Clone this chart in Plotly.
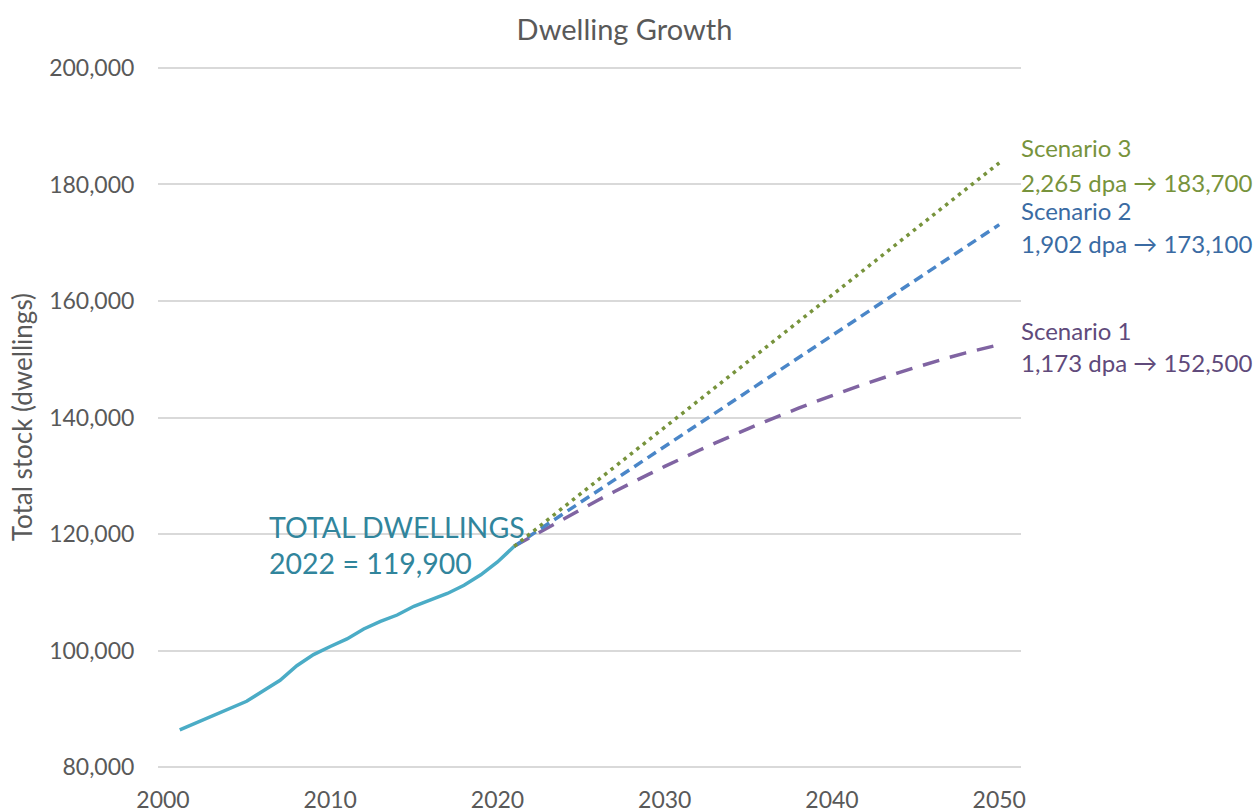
import plotly.graph_objects as go

# ---- data ----
hist_years = list(range(2001, 2022))
hist_values = [86400, 87600, 88800, 90000, 91300, 93100, 94900, 97400, 99300, 100700,
               102000, 103700, 105000, 106100, 107600, 108700, 109800, 111200, 113000,
               115200, 117900]

s1_years = list(range(2021, 2051))
s1_values = [117900, 119500, 121100, 122700, 124300, 125800, 127300, 128800, 130200, 131600,
             133000, 134300, 135600, 136900, 138100, 139300, 140500, 141600, 142700, 143800,
             144800, 145800, 146800, 147700, 148600, 149500, 150300, 151100, 151800, 152500]

s2_years = [2021, 2050]
s2_values = [117900, 173100]

s3_years = [2021, 2050]
s3_values = [117900, 183700]

x_ticks = [2000, 2010, 2020, 2030, 2040, 2050]
y_ticks = [80000, 100000, 120000, 140000, 160000, 180000, 200000]

FONT = "Lato, 'Open Sans', sans-serif"
TICK_COLOR = "#595959"

fig = go.Figure()

fig.add_trace(go.Scatter(x=hist_years, y=hist_values, mode="lines",
                         line=dict(color="#4BACC6", width=3.5), name="Total dwellings"))
fig.add_trace(go.Scatter(x=s1_years, y=s1_values, mode="lines",
                         line=dict(color="#8064A2", width=3.5, dash="17px,11px"), name="Scenario 1"))
fig.add_trace(go.Scatter(x=s2_years, y=s2_values, mode="lines",
                         line=dict(color="#4A86C8", width=3.5, dash="10px,6px"), name="Scenario 2"))
fig.add_trace(go.Scatter(x=s3_years, y=s3_values, mode="lines",
                         line=dict(color="#77933C", width=3.5, dash="3.5px,4.7px"), name="Scenario 3"))

annotations = [
    dict(text="TOTAL DWELLINGS", x=0.1263, y=0.3447, color="#31859C", size=28.5),
    dict(text="2022 = 119,900", x=0.1263, y=0.2936, color="#31859C", size=28.5),
    dict(text="Scenario 3", x=0.9977, y=0.8823, color="#77933C", size=24),
    dict(text="2,265 dpa \u2192 183,700", x=0.9977, y=0.8340, color="#77933C", size=24),
    dict(text="Scenario 2", x=0.9977, y=0.7943, color="#3A6BA3", size=24),
    dict(text="1,902 dpa \u2192 173,100", x=0.9977, y=0.7461, color="#3A6BA3", size=24),
    dict(text="Scenario 1", x=0.9977, y=0.6241, color="#604A7B", size=24),
    dict(text="1,173 dpa \u2192 152,500", x=0.9977, y=0.5787, color="#604A7B", size=24),
]
ann_objs = []
for a in annotations:
    ann_objs.append(dict(text=a["text"], x=a["x"], y=a["y"], xref="paper", yref="paper",
                         xanchor="left", yanchor="middle", showarrow=False,
                         font=dict(family=FONT, size=a["size"], color=a["color"])))
ann_objs.append(dict(text="Total stock (dwellings)", x=-0.158, y=0.5, xref="paper", yref="paper",
                     xanchor="center", yanchor="middle", showarrow=False, textangle=-90,
                     font=dict(family=FONT, size=26, color=TICK_COLOR)))

fig.update_layout(
    width=1254, height=812,
    margin=dict(l=158, r=233, t=65, b=42, autoexpand=False),
    paper_bgcolor="white", plot_bgcolor="white",
    showlegend=False,
    title=dict(text="Dwelling Growth", x=0.498, xanchor="center", y=1 - 30 / 812,
               yanchor="middle", yref="container",
               font=dict(family=FONT, size=29, color=TICK_COLOR)),
    annotations=ann_objs,
)
fig.update_xaxes(range=[1999.7, 2051.3], tickvals=x_ticks, ticktext=[str(v) for v in x_ticks],
                 showgrid=False, zeroline=False, showline=False, automargin=False,
                 ticks="outside", ticklen=9, tickcolor="rgba(0,0,0,0)",
                 tickfont=dict(family=FONT, size=23, color=TICK_COLOR))
fig.update_yaxes(range=[79500, 200500], tickvals=y_ticks,
                 ticktext=[f"{v:,}" for v in y_ticks],
                 showgrid=True, gridcolor="#D9D9D9", gridwidth=1.5, zeroline=False, showline=False,
                 automargin=False,
                 ticks="outside", ticklen=18, tickcolor="rgba(0,0,0,0)",
                 tickfont=dict(family=FONT, size=23, color=TICK_COLOR))

fig.write_html("out.html")
